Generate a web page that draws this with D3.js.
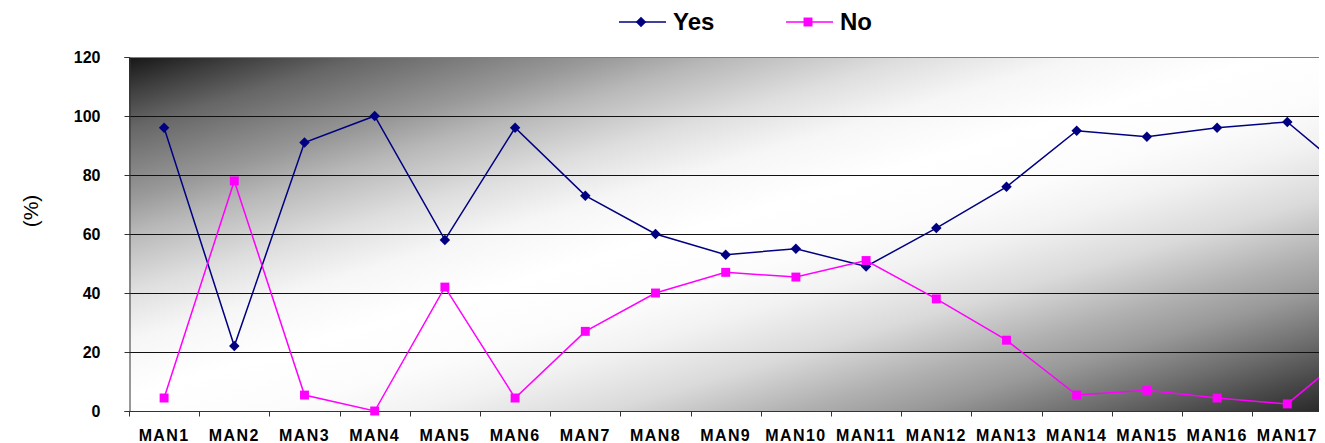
<!DOCTYPE html>
<html>
<head>
<meta charset="utf-8">
<script src="https://cdn.jsdelivr.net/npm/d3@7"></script>
<style>
  body { margin: 0; background: #fff; }
  svg { font-family: "Liberation Sans", Arial, sans-serif; }
</style>
</head>
<body>
<div id="chart"></div>
<script>
const categories = ["MAN1","MAN2","MAN3","MAN4","MAN5","MAN6","MAN7","MAN8","MAN9",
                    "MAN10","MAN11","MAN12","MAN13","MAN14","MAN15","MAN16","MAN17","MAN18"];
const yesValues = [96, 22, 91, 100, 58, 96, 73, 60, 53, 55, 49, 62, 76, 95, 93, 96, 98, 78];
const noValues  = [4.4, 78, 5.4, 0, 42, 4.4, 27, 40, 47, 45.4, 51, 38, 24, 5.4, 7, 4.4, 2.4, 22];
const yTicks = [0, 20, 40, 60, 80, 100, 120];

const FRAME_WIDTH = 1325;
const FRAME_HEIGHT = 443;
const PLOT = {left: 129, top: 57, right: 1319, bottom: 411};
const BAND = 70.2;

const svg = d3.select("#chart")
  .append("svg")
    .attr("width", FRAME_WIDTH)
    .attr("height", FRAME_HEIGHT);

const x = d3.scaleBand()
  .domain(categories)
  .range([PLOT.left, PLOT.left + BAND * categories.length]);

const y = d3.scaleLinear()
  .domain([0, 120])
  .range([PLOT.bottom, PLOT.top]);

// background gradient: dark corners, wide white diagonal band
const defs = svg.append("defs");
const grad = defs.append("linearGradient")
  .attr("id", "bg")
  .attr("x1", 0).attr("y1", 0).attr("x2", 1).attr("y2", 1);
const bgStops = [
  [0, "#161616"], [0.05, "#404040"], [0.1, "#666666"], [0.2, "#999999"],
  [0.25, "#b8b8b8"], [0.33, "#dedede"], [0.4, "#f6f6f6"], [0.48, "#ffffff"],
  [0.56, "#fcfcfc"], [0.62, "#f2f2f2"], [0.7, "#dadada"], [0.78, "#b0b0b0"],
  [0.83, "#999999"], [0.9, "#6c6c6c"], [0.95, "#4a4a4a"], [1, "#2a2a2a"]
];
grad.selectAll("stop")
  .data(bgStops)
  .enter()
  .append("stop")
    .attr("offset", d => d[0])
    .attr("stop-color", d => d[1]);

defs.append("clipPath").attr("id", "clip")
  .append("rect")
    .attr("x", PLOT.left).attr("y", PLOT.top - 6)
    .attr("width", PLOT.right - PLOT.left)
    .attr("height", PLOT.bottom - PLOT.top + 12);

svg.append("rect")
  .attr("x", PLOT.left).attr("y", PLOT.top)
  .attr("width", PLOT.right - PLOT.left)
  .attr("height", PLOT.bottom - PLOT.top)
  .attr("fill", "url(#bg)");

// top border
svg.append("line")
  .attr("x1", PLOT.left).attr("x2", PLOT.right)
  .attr("y1", PLOT.top + 0.5).attr("y2", PLOT.top + 0.5)
  .attr("stroke", "#808080");

// gridlines
svg.append("g")
  .selectAll("line")
  .data(yTicks.filter(d => d > 0 && d < 120))
  .enter()
  .append("line")
    .attr("x1", PLOT.left).attr("x2", PLOT.right)
    .attr("y1", d => Math.round(y(d)) + 0.5)
    .attr("y2", d => Math.round(y(d)) + 0.5)
    .attr("stroke", "#111")
    .attr("stroke-width", 1);

// y axis
const yAxis = svg.append("g")
  .attr("transform", `translate(${PLOT.left + 0.5},0)`)
  .call(d3.axisLeft(y).tickValues(yTicks).tickSize(5).tickPadding(24));
yAxis.select(".domain").attr("stroke", "#333");
yAxis.selectAll(".tick line").attr("stroke", "#333");
yAxis.selectAll("text")
  .attr("font-size", 16)
  .attr("font-weight", "bold")
  .attr("fill", "#000")
  .style("font-family", "'Liberation Sans', Arial, sans-serif");

// x axis
const xAxis = svg.append("g")
  .attr("transform", `translate(0,${PLOT.bottom + 0.5})`);
xAxis.append("line")
  .attr("x1", PLOT.left).attr("x2", PLOT.right)
  .attr("stroke", "#333");
xAxis.selectAll("line.tk")
  .data(categories.slice(0, 17))
  .enter()
  .append("line")
    .attr("class", "tk")
    .attr("x1", d => Math.round(x(d)) + 0.5)
    .attr("x2", d => Math.round(x(d)) + 0.5)
    .attr("y1", 0).attr("y2", 5)
    .attr("stroke", "#333");
xAxis.selectAll("text")
  .data(categories.slice(0, 17))
  .enter()
  .append("text")
    .attr("x", d => x(d) + x.bandwidth() / 2)
    .attr("y", 29)
    .attr("text-anchor", "middle")
    .attr("font-size", 16)
    .attr("font-weight", "bold")
    .attr("letter-spacing", 1.4)
    .text(d => d);

// y title
svg.append("text")
  .attr("transform", "translate(38,211) rotate(-90)")
  .attr("text-anchor", "middle")
  .attr("font-size", 21)
  .text("(%)");

// lines
const series = [
  {name: "Yes", values: yesValues, color: "#000080", marker: "diamond"},
  {name: "No", values: noValues, color: "#ff00ff", marker: "square"}
];

const line = d3.line()
  .x((d, i) => x(categories[i]) + x.bandwidth() / 2)
  .y(d => y(d));

const plotG = svg.append("g").attr("clip-path", "url(#clip)");

series.forEach(s => {
  plotG.append("path")
    .datum(s.values)
    .attr("fill", "none")
    .attr("stroke", s.color)
    .attr("stroke-width", 1.5)
    .attr("d", line);

  const sym = s.marker === "diamond"
    ? d3.symbol().type(d3.symbolDiamond2).size(70)
    : d3.symbol().type(d3.symbolSquare).size(80);

  plotG.selectAll(null)
    .data(s.values)
    .enter()
    .append("path")
      .attr("d", sym)
      .attr("transform", (d, i) => `translate(${x(categories[i]) + x.bandwidth() / 2},${y(d)})`)
      .attr("fill", s.color);
});

// legend
const legend = [
  {name: "Yes", color: "#000080", marker: "diamond", x: 619},
  {name: "No", color: "#ff00ff", marker: "square", x: 786}
];
legend.forEach(l => {
  const g = svg.append("g").attr("transform", `translate(${l.x},22)`);
  g.append("line")
    .attr("x1", 0).attr("x2", 47)
    .attr("stroke", l.color).attr("stroke-width", 1.5);
  const sym = l.marker === "diamond"
    ? d3.symbol().type(d3.symbolDiamond2).size(70)
    : d3.symbol().type(d3.symbolSquare).size(80);
  g.append("path")
    .attr("d", sym)
    .attr("transform", "translate(22,0)")
    .attr("fill", l.color);
  g.append("text")
    .attr("x", 54).attr("y", 8)
    .attr("font-size", 24)
    .attr("font-weight", "bold")
    .text(l.name);
});
</script>
</body>
</html>
